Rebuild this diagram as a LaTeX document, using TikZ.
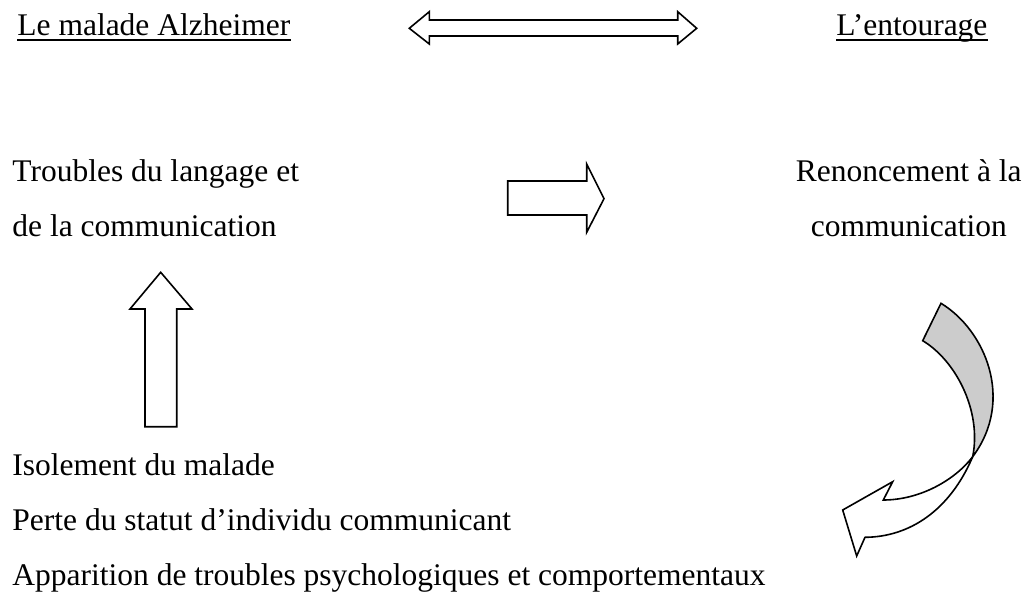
\documentclass[tikz,border=0pt]{standalone}
\usepackage{fontspec}
\setmainfont{Liberation Serif}
\usepackage{tikz}

\tikzset{
    fleche/.style={draw, fill=white, line width=0.8pt, line join=miter},
    texte/.style={inner sep=0pt, font=\fontsize{15.75}{19}\selectfont},
    souligne/.style={line width=0.9pt}
}

\begin{document}
\begin{tikzpicture}[x=0.5pt, y=-0.5pt]
        \useasboundingbox (0,0) rectangle (1030,605);
        % titres
        \node[texte, anchor=base west] (malade) at (17,35) {Le malade Alzheimer};
        \node[texte, anchor=base west] (entourage) at (836,35) {L’entourage};
        \draw[souligne] ([yshift=-2.3pt]malade.base west) -- ([yshift=-2.3pt]malade.base east);
        \draw[souligne] ([yshift=-2.3pt]entourage.base west) -- ([yshift=-2.3pt]entourage.base east);
        % double fleche
        \draw[fleche] (409.3,28.3) -- (429.3,11.7) -- (429.3,20) -- (677.7,20) -- (677.7,11.7)
            -- (696.7,28.3) -- (677.7,44) -- (677.7,36) -- (429.3,36) -- (429.3,44) -- cycle;
        % textes
        \node[texte, anchor=base west] (troubles) at (12,181) {Troubles du langage et};
        \node[texte, anchor=base west] (troubles2) at (12,236) {de la communication};
        \node[texte, anchor=base east] (renonce) at (1022,181) {Renoncement à la};
        \node[texte, anchor=base] (renonce2) at (renonce.base |- 0,236) {communication};
        \node[texte, anchor=base west] (isolement) at (12,475) {Isolement du malade};
        \node[texte, anchor=base west] (perte) at (12,530) {Perte du statut d’individu communicant};
        \node[texte, anchor=base west] (apparition) at (12,585) {Apparition de troubles psychologiques et comportementaux};
        % fleche droite
        \draw[fleche] (507.7,181) -- (586.7,181) -- (586.7,164) -- (604,198.7) -- (586.7,232.3)
            -- (586.7,215) -- (507.7,215) -- cycle;
        % fleche haut
        \draw[fleche] (145,426.7) -- (145,309) -- (130,309) -- (160.7,272.3) -- (192,309)
            -- (176.7,309) -- (176.7,426.7) -- cycle;
        % fleche courbe
        \coordinate (croix) at (972.7,456.7);
        \draw[fleche, fill=black!20] (941,303.3) .. controls (985,330) and (1015,400) .. (croix)
            .. controls (982,410) and (955,360) .. (922.7,340.7) -- cycle;
        \draw[fleche] (croix) .. controls (955,480) and (920,500) .. (883.3,500) -- (892.7,481.7)
            -- (842.7,510) -- (856.7,556) -- (865,537.3) .. controls (910,537) and (950,510) .. (croix);
    \end{tikzpicture}
\end{document}
